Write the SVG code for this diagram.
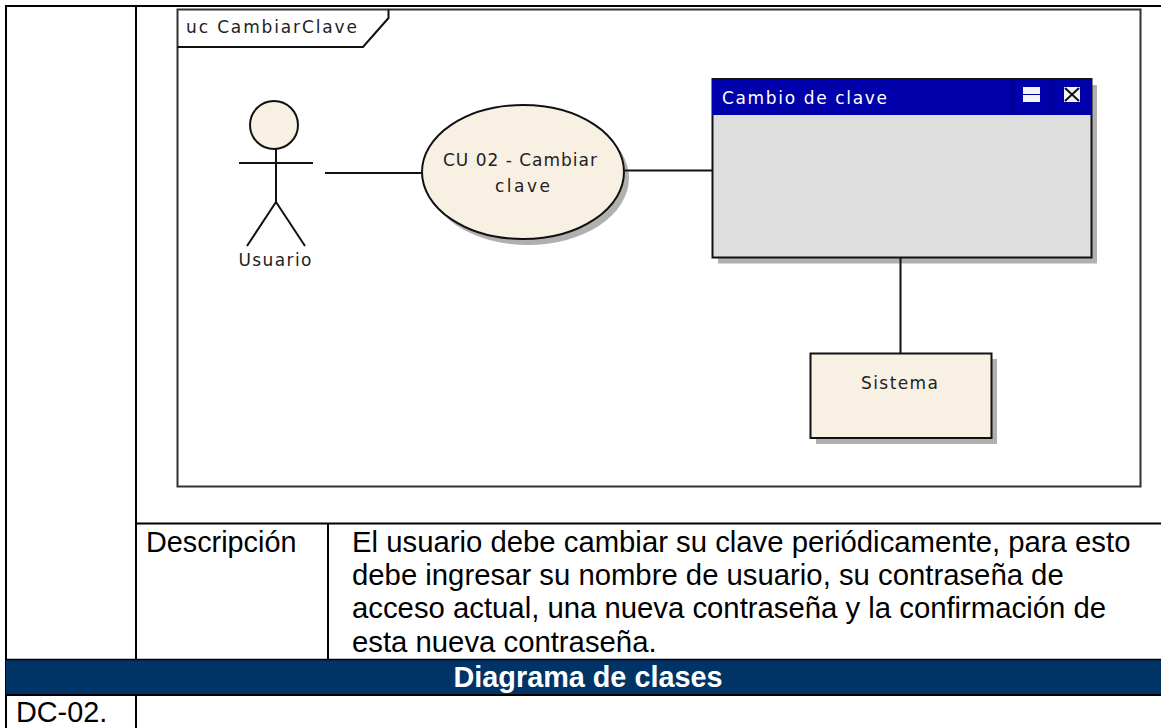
<svg xmlns="http://www.w3.org/2000/svg" width="1161" height="728" viewBox="0 0 1161 728">
<defs><filter id="soft" x="-5%" y="-5%" width="110%" height="110%"><feGaussianBlur stdDeviation="0.6"/></filter></defs>
<style>
.doc{font-family:"Liberation Sans",Arial,sans-serif;font-size:28.8px;fill:#000}
.body{font-size:29.3px}
.uml{font-family:"DejaVu Sans",sans-serif;font-size:17px;fill:#222}
.ln{stroke:#111;stroke-width:2;fill:none}
.sh{fill:#b0b0b0;stroke:none;filter:url(#soft)}
</style>
<rect width="1161" height="728" fill="#fff"/>
<g id="table" fill="none" stroke="#000" stroke-width="2">
<path d="M5 6H1161M6 6V728M136 6V728M136 523.500H1161M328 523.500V660M136 695V728"/>
<rect x="6" y="659.500" width="1155" height="35" fill="#003366" stroke="none"/>
<path d="M6 659.500H1161" stroke-width="1.500"/>
<path d="M6 695H1161" stroke-width="2"/>
</g>
<g id="frame">
<rect x="177.500" y="9.500" width="963" height="477" fill="#fff" stroke="#333" stroke-width="2"/>
<path d="M177.500 47H363L388.500 18V9.500" class="ln"/>
<text x="186" y="33" class="uml" textLength="171" lengthAdjust="spacing">uc CambiarClave</text>
</g>
<g id="actor">
<circle cx="274" cy="125" r="24" fill="#f9f0e4" stroke="#111" stroke-width="2"/>
<path d="M276 149V202M239 163H313M276 202L247 246M276 202L305 246" class="ln"/>
<text x="238.500" y="266" class="uml" textLength="73" lengthAdjust="spacing">Usuario</text>
</g>
<g id="usecase">
<ellipse cx="528" cy="178" rx="101" ry="67" class="sh"/>
<ellipse cx="523" cy="172" rx="101" ry="67" fill="#f9f0e4" stroke="#111" stroke-width="2"/>
<text x="443" y="166" class="uml" textLength="154" lengthAdjust="spacing">CU 02 - Cambiar</text>
<text x="495" y="192" class="uml" textLength="55" lengthAdjust="spacing">clave</text>
</g>
<g id="window">
<rect x="718" y="85" width="379" height="178.500" class="sh"/>
<rect x="712.500" y="79" width="379" height="178.500" fill="#dedede" stroke="#111" stroke-width="2"/>
<rect x="712" y="79" width="380" height="36" fill="#0000aa"/>
<path d="M1012 79V115M1052 79V115" stroke="#000080" stroke-width="1.500"/>
<rect x="1023" y="87" width="17" height="7" fill="#f4f4f4"/>
<rect x="1023" y="95" width="17" height="7" fill="#f4f4f4"/>
<rect x="1064" y="87" width="16" height="15" fill="#f4f4f4"/>
<path d="M1065 88L1079 101M1079 88L1065 101" stroke="#111" stroke-width="2"/>
<text x="722" y="104" class="uml" style="fill:#fff" textLength="165" lengthAdjust="spacing">Cambio de clave</text>
</g>
<g id="sistema">
<rect x="816" y="359" width="181" height="85" class="sh"/>
<rect x="810.500" y="353.500" width="181" height="84.500" fill="#f9f0e4" stroke="#111" stroke-width="2"/>
<text x="861" y="389" class="uml" textLength="77" lengthAdjust="spacing">Sistema</text>
</g>
<g id="connectors" class="ln">
<path d="M325 173H421M625 170.500H712M900.500 258V353"/>
</g>
<g id="texts" class="doc">
<text x="146" y="552">Descripción</text>
<text x="352" y="552" class="body">El usuario debe cambiar su clave periódicamente, para esto</text>
<text x="352" y="585" class="body">debe ingresar su nombre de usuario, su contraseña de</text>
<text x="352" y="618" class="body">acceso actual, una nueva contraseña y la confirmación de</text>
<text x="352" y="652" class="body">esta nueva contraseña.</text>
<text x="588" y="687" text-anchor="middle" font-weight="bold" style="fill:#fff">Diagrama de clases</text>
<text x="16" y="722">DC-02.</text>
</g>
</svg>
